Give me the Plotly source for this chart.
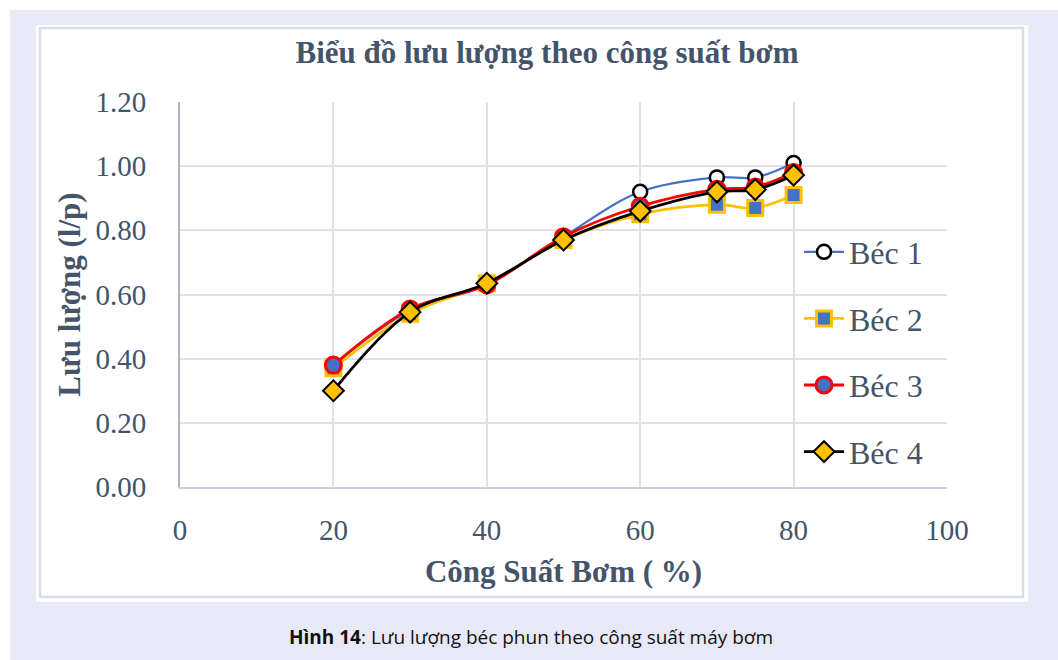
import plotly.graph_objects as go

# ---- data ----
cong_suat = [20, 30, 40, 50, 60, 70, 75, 80]
bec1 = [0.38, 0.55, 0.63, 0.78, 0.92, 0.965, 0.965, 1.01]
bec2 = [0.37, 0.54, 0.635, 0.77, 0.85, 0.88, 0.87, 0.91]
bec3 = [0.38, 0.555, 0.63, 0.78, 0.875, 0.928, 0.935, 0.98]
bec4 = [0.30, 0.545, 0.635, 0.77, 0.86, 0.92, 0.927, 0.972]
series_names = ["Béc 1", "Béc 2", "Béc 3", "Béc 4"]
x_ticks = [0, 20, 40, 60, 80, 100]
y_ticks = [0.0, 0.2, 0.4, 0.6, 0.8, 1.0, 1.2]

title_text = "<b>Biểu đồ lưu lượng theo công suất bơm</b>"
x_title = "<b>Công Suất Bơm ( %)</b>"
y_title = "<b>Lưu lượng (l/p)</b>"
caption = "<b>Hình 14</b>: Lưu lượng béc phun theo công suất máy bơm"

TXT = "#44546A"
SERIF = "Liberation Serif, Times New Roman, serif"

styles = [
    dict(line=dict(color="#4472C4", width=2.2),
         marker=dict(symbol="circle", size=14, color="white", line=dict(color="black", width=2.5))),
    dict(line=dict(color="#FFC000", width=2.8),
         marker=dict(symbol="square", size=15, color="#4472C4", line=dict(color="#FFC000", width=3))),
    dict(line=dict(color="#FF0000", width=2.8),
         marker=dict(symbol="circle", size=16, color="#4472C4", line=dict(color="#FF0000", width=3))),
    dict(line=dict(color="#000000", width=2.8),
         marker=dict(symbol="diamond", size=16, color="#FFC000", line=dict(color="black", width=2))),
]

fig = go.Figure()
for name, ys, st in zip(series_names, [bec1, bec2, bec3, bec4], styles):
    fig.add_trace(go.Scatter(
        x=cong_suat, y=ys, name=name, mode="lines+markers",
        line=dict(shape="spline", **st["line"]), marker=st["marker"],
        legendgroup=name,
    ))

W, H = 1058, 660
L, R, T, B = 180, 111, 102, 173
pw, ph = W - L - R, H - T - B


def px(xpix):
    return (xpix - L) / pw


def py(ypix):
    return (H - B - ypix) / ph


shapes = [
    dict(type="rect", xref="paper", yref="paper", layer="below",
         x0=px(10), x1=px(1058), y0=py(10), y1=py(662),
         fillcolor="#E7EAF6", line=dict(width=0)),
    dict(type="rect", xref="paper", yref="paper", layer="below",
         x0=px(36), x1=px(1028), y0=py(25), y1=py(602),
         fillcolor="white", line=dict(width=0)),
    dict(type="rect", xref="paper", yref="paper", layer="below",
         x0=px(40), x1=px(1023), y0=py(28), y1=py(597),
         fillcolor="rgba(0,0,0,0)", line=dict(color="#DADEE4", width=2.5)),
]

fig.update_layout(
    width=W, height=H,
    margin=dict(l=L, r=R, t=T, b=B),
    paper_bgcolor="white", plot_bgcolor="white",
    shapes=shapes,
    title=dict(text=title_text, x=547 / W, xref="container", xanchor="center",
               y=1 - 52 / H, yref="container", yanchor="middle",
               font=dict(family=SERIF, size=31, color=TXT)),
    legend=dict(x=px(799), xanchor="left", y=py(352), yanchor="middle",
                bgcolor="rgba(0,0,0,0)", font=dict(family=SERIF, size=32, color=TXT),
                tracegroupgap=22, itemwidth=40),
    showlegend=True,
    annotations=[dict(text=caption, xref="paper", yref="paper",
                      x=px(531), y=py(637), xanchor="center", yanchor="middle",
                      showarrow=False, font=dict(family="Open Sans, sans-serif", size=19, color="#111111"))],
)

fig.update_xaxes(
    range=[0, 100], tickvals=x_ticks, ticktext=[str(v) for v in x_ticks],
    showgrid=True, gridcolor="#DDE1E8", gridwidth=2,
    showline=True, linecolor="#CBD1DA", linewidth=2,
    zeroline=False, ticks="", ticklabelstandoff=16,
    tickfont=dict(family=SERIF, size=29, color=TXT),
    title=dict(text=x_title, font=dict(family=SERIF, size=31, color=TXT), standoff=16),
)
fig.update_yaxes(
    range=[0, 1.2], tickvals=y_ticks, tickformat=".2f",
    showgrid=True, gridcolor="#DDE1E8", gridwidth=2,
    showline=True, linecolor="#A9B3C2", linewidth=2,
    zeroline=False, ticks="", ticklabelstandoff=26,
    tickfont=dict(family=SERIF, size=29, color=TXT),
    title=dict(text=y_title, font=dict(family=SERIF, size=31, color=TXT), standoff=6),
)

fig.write_html("out.html")
